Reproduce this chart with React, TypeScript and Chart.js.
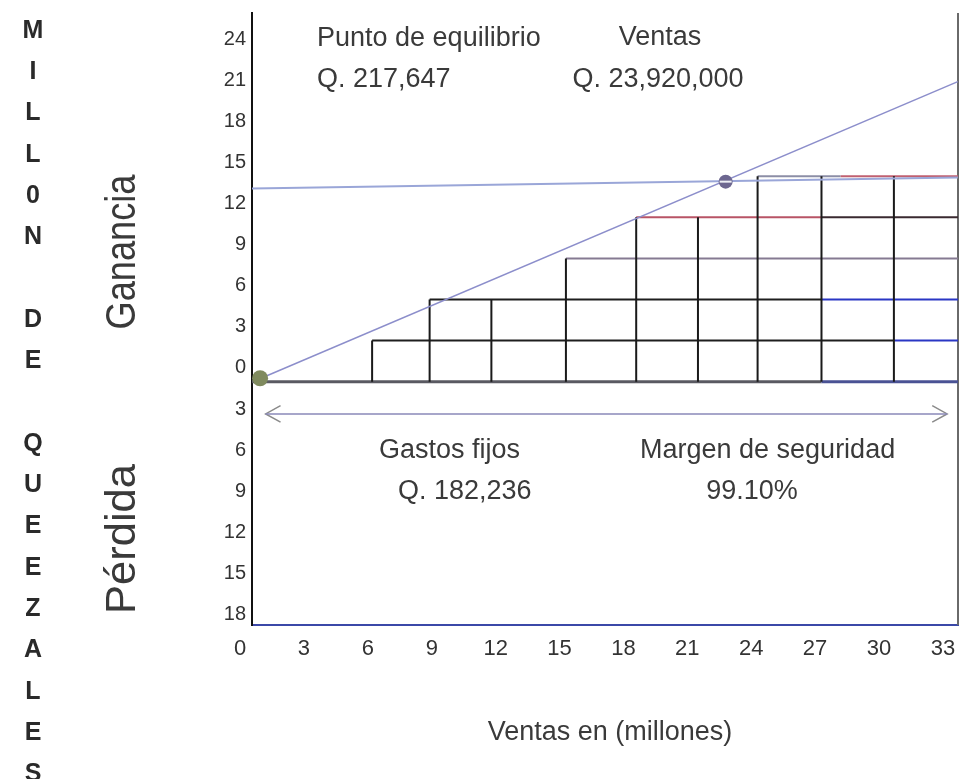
import React, { useEffect, useRef } from 'react';
import { Chart, registerables } from 'chart.js';

Chart.register(...registerables);

// ---------- data ----------
const xTickValues = [0, 3, 6, 9, 12, 15, 18, 21, 24, 27, 30, 33];
const yTickValues = [-18, -15, -12, -9, -6, -3, 0, 3, 6, 9, 12, 15, 18, 21, 24];

// staircase of boxes (ventas en millones vs. millones de quetzales)
const stepX = [6.2, 8.9, 11.8, 15.3, 18.6, 21.5, 24.3, 27.3, 30.7];
const stepTop = [2, 5, 5, 8, 11, 11, 14, 14, 14];
const levelY = [2, 5, 8, 11, 14];
const levelStartX = [6.2, 8.9, 15.3, 18.6, 24.3];
const levelSplitX = [30.7, 27.3, 27.3, 27.3, 28.2];
const baseY = -1;
const baseSplitX = 27.3;

// sales line, fixed-cost line, points
const salesLine = [
  { x: 0.9, y: -0.8 },
  { x: 33.7, y: 20.9 },
];
const fixedLine = [
  { x: 0.56, y: 13.1 },
  { x: 33.7, y: 13.9 },
];
const originPoint = { x: 0.94, y: -0.75 };
const breakEvenPoint = { x: 22.8, y: 13.6 };

// double arrow (margen de seguridad)
const arrowY = -3.35;
const arrowFromX = 1.2;
const arrowToX = 33.2;
const arrowHeadDX = 0.7;
const arrowHeadDY = 0.6;

// texts
const sideLetters = ['M', 'I', 'L', 'L', '0', 'N', '', 'D', 'E', '', 'Q', 'U', 'E', 'E', 'Z', 'A', 'L', 'E', 'S'];

// ---------- styles ----------
const X_MIN = 0.56;
const X_MAX = 33.71;
const Y_MIN = -18.76;
const Y_MAX = 25.91;

const SANS = '"Liberation Sans", Arial, sans-serif';
const TEXT = '#3a3a3a';

const levelColorA = ['#1e1e1e', '#1e1e1e', '#857a92', '#b85466', '#8c8ea6'];
const levelColorB = ['#2a36c4', '#2a36c4', '#857a92', '#3a2a30', '#c06070'];

function drawFitted(ctx: CanvasRenderingContext2D, text: string, cx: number, cy: number, length: number) {
  ctx.save();
  ctx.translate(cx, cy);
  ctx.rotate(-Math.PI / 2);
  const w = ctx.measureText(text).width;
  ctx.scale(length / w, 1);
  ctx.fillText(text, 0, 0);
  ctx.restore();
}

const textPlugin = {
  id: 'texts',
  afterDraw(chart: any) {
    const ctx = chart.ctx as CanvasRenderingContext2D;
    ctx.save();
    ctx.fillStyle = TEXT;
    ctx.textBaseline = 'alphabetic';

    ctx.font = `27px ${SANS}`;
    ctx.textAlign = 'left';
    ctx.fillText('Punto de equilibrio', 317, 46);
    ctx.fillText('Q. 217,647', 317, 87);
    ctx.fillText('Gastos fijos', 379, 458);
    ctx.fillText('Q. 182,236', 398, 499);
    ctx.fillText('Margen de seguridad', 640, 458);
    ctx.textAlign = 'center';
    ctx.fillText('Ventas', 660, 45);
    ctx.fillText('Q. 23,920,000', 658, 87);
    ctx.fillText('99.10%', 752, 499);
    ctx.fillText('Ventas en (millones)', 610, 740);

    // rotated labels (condensed look)
    ctx.font = `43px ${SANS}`;
    ctx.textBaseline = 'middle';
    drawFitted(ctx, 'Ganancia', 123, 252, 155);
    drawFitted(ctx, 'Pérdida', 123, 539, 150);

    // vertical title letters
    ctx.font = `bold 25px ${SANS}`;
    ctx.fillStyle = '#2a2a2a';
    ctx.textBaseline = 'middle';
    sideLetters.forEach((ch, i) => {
      if (ch) ctx.fillText(ch, 33, 31 + 41.3 * i);
    });
    ctx.restore();
  },
};

function line(data: any[], color: string, width: number, extra: any = {}) {
  return {
    data,
    showLine: true,
    borderColor: color,
    backgroundColor: color,
    borderWidth: width,
    pointRadius: 0,
    fill: false,
    tension: 0,
    clip: false,
    ...extra,
  };
}

export default function App() {
  const ref = useRef<HTMLCanvasElement>(null);

  useEffect(() => {
    if (!ref.current) return;

    const verticalPts: any[] = [];
    stepX.forEach((x, i) => {
      verticalPts.push({ x, y: baseY }, { x, y: stepTop[i] }, { x, y: null });
    });

    const levelSets = levelY.map((y, i) =>
      line(
        [
          { x: levelStartX[i], y },
          { x: levelSplitX[i], y },
          { x: X_MAX, y },
        ],
        levelColorA[i],
        2,
        { segment: { borderColor: (c: any) => (c.p0DataIndex === 0 ? levelColorA[i] : levelColorB[i]) } }
      )
    );

    const datasets: any[] = [
      {
        data: [breakEvenPoint],
        pointStyle: 'line',
        pointRadius: 6,
        borderColor: '#eef0f6',
        borderWidth: 2,
        showLine: false,
        clip: false,
      },
      {
        data: [breakEvenPoint],
        pointRadius: 7,
        backgroundColor: '#6d6790',
        borderColor: '#6d6790',
        borderWidth: 0,
        showLine: false,
        clip: false,
      },
      {
        data: [originPoint],
        pointRadius: 8,
        backgroundColor: '#7f8a5e',
        borderColor: '#7f8a5e',
        borderWidth: 0,
        showLine: false,
        clip: false,
      },
      line(salesLine, '#8c8ecb', 1.5),
      line(fixedLine, '#9aa6d8', 2),
      line(verticalPts, '#1a1a1a', 2, { spanGaps: false }),
      ...levelSets,
      line(
        [
          { x: X_MIN, y: baseY },
          { x: baseSplitX, y: baseY },
          { x: X_MAX, y: baseY },
        ],
        '#5a5a62',
        3,
        { segment: { borderColor: (c: any) => (c.p0DataIndex === 0 ? '#5a5a62' : '#4a5294') } }
      ),
      line(
        [
          { x: arrowFromX, y: arrowY },
          { x: arrowToX, y: arrowY },
        ],
        '#8a88b8',
        1.5
      ),
      line(
        [
          { x: arrowFromX + arrowHeadDX, y: arrowY + arrowHeadDY },
          { x: arrowFromX, y: arrowY },
          { x: arrowFromX + arrowHeadDX, y: arrowY - arrowHeadDY },
        ],
        '#8a8a8a',
        1.5
      ),
      line(
        [
          { x: arrowToX - arrowHeadDX, y: arrowY + arrowHeadDY },
          { x: arrowToX, y: arrowY },
          { x: arrowToX - arrowHeadDX, y: arrowY - arrowHeadDY },
        ],
        '#8a8a8a',
        1.5
      ),
      line(
        [
          { x: X_MAX, y: Y_MIN },
          { x: X_MAX, y: Y_MAX },
        ],
        '#6a6a6a',
        2
      ),
    ];

    const chart = new Chart(ref.current, {
      type: 'scatter',
      data: { datasets },
      options: {
        animation: false,
        responsive: false,
        events: [],
        layout: { autoPadding: false, padding: { left: 212, right: 3, top: 13, bottom: 94 } },
        plugins: { legend: { display: false }, tooltip: { enabled: false } },
        scales: {
          x: {
            type: 'linear',
            min: X_MIN,
            max: X_MAX,
            bounds: 'data',
            grid: { display: false, drawTicks: false },
            border: { display: true, color: '#3b48a8', width: 2 },
            ticks: {
              autoSkip: false,
              padding: 11,
              color: '#333',
              font: { family: SANS, size: 22 },
              callback: (v: any) => String(v),
            },
            afterBuildTicks: (s: any) => {
              s.ticks = xTickValues.map((v) => ({ value: v }));
            },
            afterFit: (s: any) => {
              s.height = 60;
              s.paddingLeft = 0;
              s.paddingRight = 0;
            },
          },
          y: {
            type: 'linear',
            min: Y_MIN,
            max: Y_MAX,
            bounds: 'data',
            grid: { display: false, drawTicks: false },
            border: { display: true, color: '#111', width: 2 },
            ticks: {
              autoSkip: false,
              padding: 6,
              color: '#333',
              font: { family: SANS, size: 20 },
              callback: (v: any) => String(Math.abs(Number(v))),
            },
            afterBuildTicks: (s: any) => {
              s.ticks = yTickValues.map((v) => ({ value: v }));
            },
            afterFit: (s: any) => {
              s.width = 40;
              s.paddingTop = 0;
              s.paddingBottom = 0;
            },
          },
        },
      } as any,
      plugins: [textPlugin],
    });

    return () => chart.destroy();
  }, []);

  return (
    <div style={{ position: 'absolute', left: 0, top: 0, width: 961, height: 779, background: '#fff' }}>
      <canvas ref={ref} width={961} height={779} style={{ display: 'block' }} />
    </div>
  );
}
